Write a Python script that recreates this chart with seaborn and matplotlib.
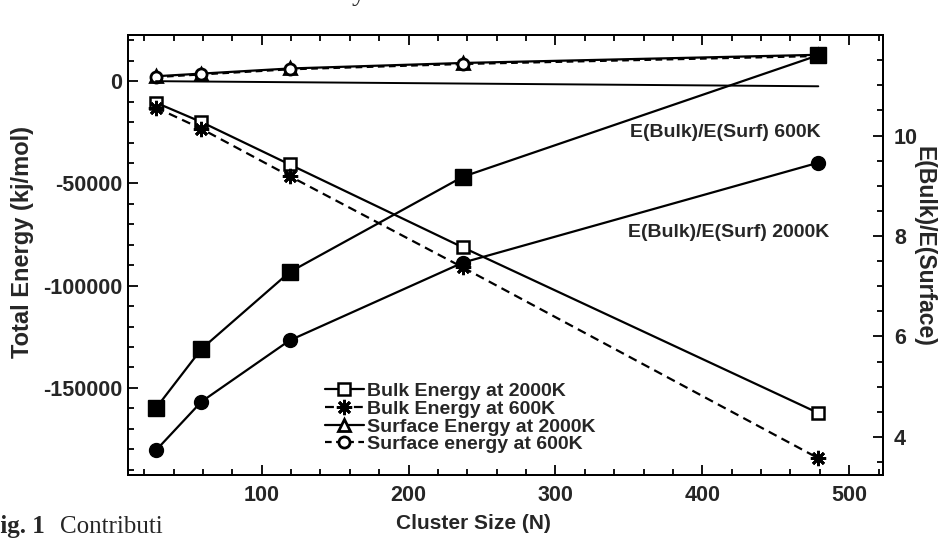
import matplotlib
matplotlib.use("Agg")
import matplotlib.pyplot as plt
import seaborn as sns
from matplotlib.ticker import MultipleLocator

# Cluster sizes (number of atoms)
cluster_size = [28, 59, 119, 237, 479]

# Total energies (kJ/mol), left axis
bulk_2000k = [-10500, -20000, -40700, -81300, -162300]
bulk_600k = [-12900, -23300, -46400, -91100, -184400]
surf_2000k = [2400, 3700, 6200, 8900, 12900]
surf_600k = [2000, 3300, 5800, 8400, 12300]

# Reference line through the energy panel
ref_size = [28, 479]
ref_energy = [0, -2500]

# Bulk / surface energy ratios, right axis
ratio_600k = [4.57, 5.75, 7.28, 9.18, 11.6]
ratio_2000k = [3.73, 4.70, 5.92, 7.47, 9.46]

x_ticks = [100, 200, 300, 400, 500]
left_ticks = [0, -50000, -100000, -150000]
right_ticks = [4, 6, 8, 10]

sns.set_theme(style="ticks")
plt.rcParams["font.family"] = ["Liberation Sans", "DejaVu Sans"]
plt.rcParams["axes.linewidth"] = 1.4

fig = plt.figure(figsize=(9.39, 5.41), dpi=100)
ax = fig.add_axes([0.1363, 0.122, 0.804, 0.813])
ax2 = ax.twinx()

common = dict(color="black", linewidth=1.6, markeredgecolor="black")

sns.lineplot(x=cluster_size, y=bulk_2000k, ax=ax, marker="s", markersize=9,
             markerfacecolor="white", markeredgewidth=1.8,
             label="Bulk Energy at 2000K", **common)
sns.lineplot(x=cluster_size, y=bulk_600k, ax=ax, marker=(8, 2, 0), markersize=11,
             markeredgewidth=2.0, linestyle=(0, (4, 2.5)),
             label="Bulk Energy at 600K", **common)
sns.lineplot(x=cluster_size, y=surf_2000k, ax=ax, marker="^", markersize=8,
             markerfacecolor="white", markeredgewidth=2.0,
             label="Surface Energy at 2000K", **common)
sns.lineplot(x=cluster_size, y=surf_600k, ax=ax, marker="o", markersize=8,
             markerfacecolor="white", markeredgewidth=2.0, linestyle=(0, (3, 2)),
             label="Surface energy at 600K", **common)
sns.lineplot(x=ref_size, y=ref_energy, ax=ax, color="black", linewidth=1.4,
             label="_nolegend_")

sns.lineplot(x=cluster_size, y=ratio_600k, ax=ax2, marker="s", markersize=11,
             markerfacecolor="black", markeredgewidth=1.0,
             label="_nolegend_", **common)
sns.lineplot(x=cluster_size, y=ratio_2000k, ax=ax2, marker="o", markersize=10,
             markerfacecolor="black", markeredgewidth=1.0,
             label="_nolegend_", **common)

ax.set_xlim(9, 523)
ax.set_ylim(-192600, 22500)
ax2.set_ylim(3.24, 12.0)

ax.set_xticks(x_ticks)
ax.set_yticks(left_ticks)
ax.set_yticklabels([f"{v:d}" for v in left_ticks])
ax2.set_yticks(right_ticks)
ax.xaxis.set_minor_locator(MultipleLocator(20))
ax.yaxis.set_minor_locator(MultipleLocator(10000))
ax2.yaxis.set_minor_locator(MultipleLocator(0.5))

for lab in ax.get_xticklabels() + ax.get_yticklabels() + ax2.get_yticklabels():
    lab.set_fontsize(15.5)
    lab.set_fontweight("bold")

ax.tick_params(which="both", direction="in", top=True, right=False,
               color="black", width=1.3)
ax.tick_params(which="major", length=7)
ax.tick_params(which="minor", length=4)
ax.tick_params(axis="x", pad=7)
ax.tick_params(axis="y", pad=4)
ax2.tick_params(which="both", direction="in", color="black", width=1.3, pad=8)
ax2.tick_params(which="major", length=7)
ax2.tick_params(which="minor", length=4)

for a in (ax, ax2):
    for s in a.spines.values():
        s.set_color("black")
        s.set_linewidth(1.4)

ax.set_xlabel("Cluster Size (N)", fontsize=15, fontweight="bold")
ax.xaxis.set_label_coords(0.457, -0.088)
ax.set_ylabel("Total Energy (kj/mol)", fontsize=17, fontweight="bold")
ax.yaxis.set_label_coords(-0.124, 0.53)
ax2.set_ylabel("E(Bulk)/E(Surface)", fontsize=16.5, fontweight="bold",
               rotation=-90, va="center")
ax2.yaxis.set_label_coords(1.055, 0.52)

ax.text(0.918, 0.779, "E(Bulk)/E(Surf) 600K", transform=ax.transAxes,
        ha="right", va="center", fontsize=14, fontweight="bold")
ax.text(0.929, 0.552, "E(Bulk)/E(Surf) 2000K", transform=ax.transAxes,
        ha="right", va="center", fontsize=14, fontweight="bold")

handles, labels = ax.get_legend_handles_labels()
keep = [(h, l) for h, l in zip(handles, labels) if not l.startswith("_")]
leg = ax.legend([h for h, _ in keep], [l for _, l in keep],
                loc="upper left", bbox_to_anchor=(0.248, 0.232),
                frameon=False, handlelength=2.0, handletextpad=0.15,
                labelspacing=0.0, borderpad=0.0,
                prop=dict(size=14, weight="bold"))

if ax2.get_legend() is not None:
    ax2.get_legend().remove()

# Surrounding page text
fig.text(0.375, 1.012, "y stable.", fontsize=20, family="Liberation Serif",
         va="center", ha="left")
fig.text(-0.016, 0.026, "Fig. 1", fontsize=18, family="Liberation Serif",
         fontweight="bold", va="center", ha="left")
fig.text(0.064, 0.026, "Contributi", fontsize=18, family="Liberation Serif",
         va="center", ha="left")

fig.savefig("out.png", dpi=100, facecolor="white")
